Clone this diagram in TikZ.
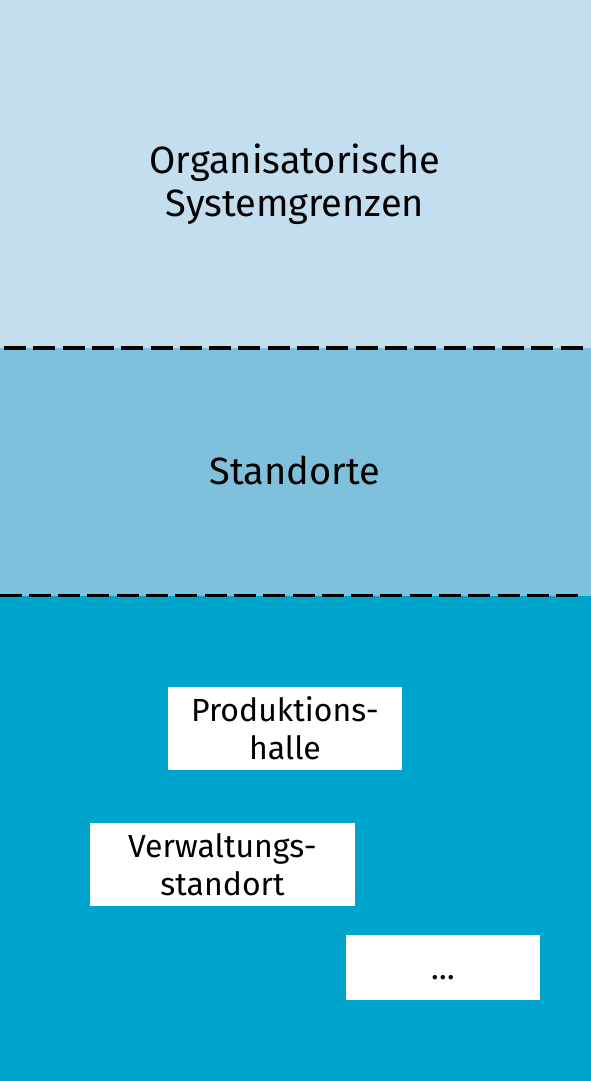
\documentclass[tikz,border=0pt]{standalone}
\usepackage{fontspec}
\setmainfont{Fira Sans}
\definecolor{topblue}{HTML}{C3DFEF}
\definecolor{midblue}{HTML}{7FC1DC}
\definecolor{lowblue}{HTML}{00A5CE}
\begin{document}
\begin{tikzpicture}[x=1pt,y=-1pt,
  divider/.style={line width=3.2pt,dash pattern=on 22pt off 7.3pt},
  bigtext/.style={font=\fontsize{38}{43}\selectfont,align=center,inner sep=0pt},
  whitebox/.style={fill=white,draw=none,font=\fontsize{32}{38}\selectfont,align=center,inner sep=0pt}]
\useasboundingbox (0,0) rectangle (591,1081);
\fill[topblue] (0,0) rectangle (591,348);
\fill[midblue] (0,348) rectangle (591,595.5);
\fill[lowblue] (0,595.5) rectangle (591,1081);
\coordinate (l1a) at (4,348);
\coordinate (l1b) at (583,348);
\coordinate (l2a) at (-0.5,595.5);
\coordinate (l2b) at (578,595.5);
\draw[divider] (l1a) -- (l1b);
\draw[divider] (l2a) -- (l2b);
\node[bigtext] (org) at (295,184) {Organisatorische\\Systemgrenzen};
\node[bigtext] (std) at (295,470) {Standorte};
\node[whitebox,minimum width=234pt,minimum height=83pt] (prod) at (285,728.5) {Produktions-\\halle};
\node[whitebox,minimum width=265pt,minimum height=83pt] (verw) at (222.5,864.5) {Verwaltungs-\\standort};
\node[whitebox,minimum width=194pt,minimum height=65pt,text height=24pt,text depth=0pt] (etc) at (443,967.5) {…};
\end{tikzpicture}
\end{document}
